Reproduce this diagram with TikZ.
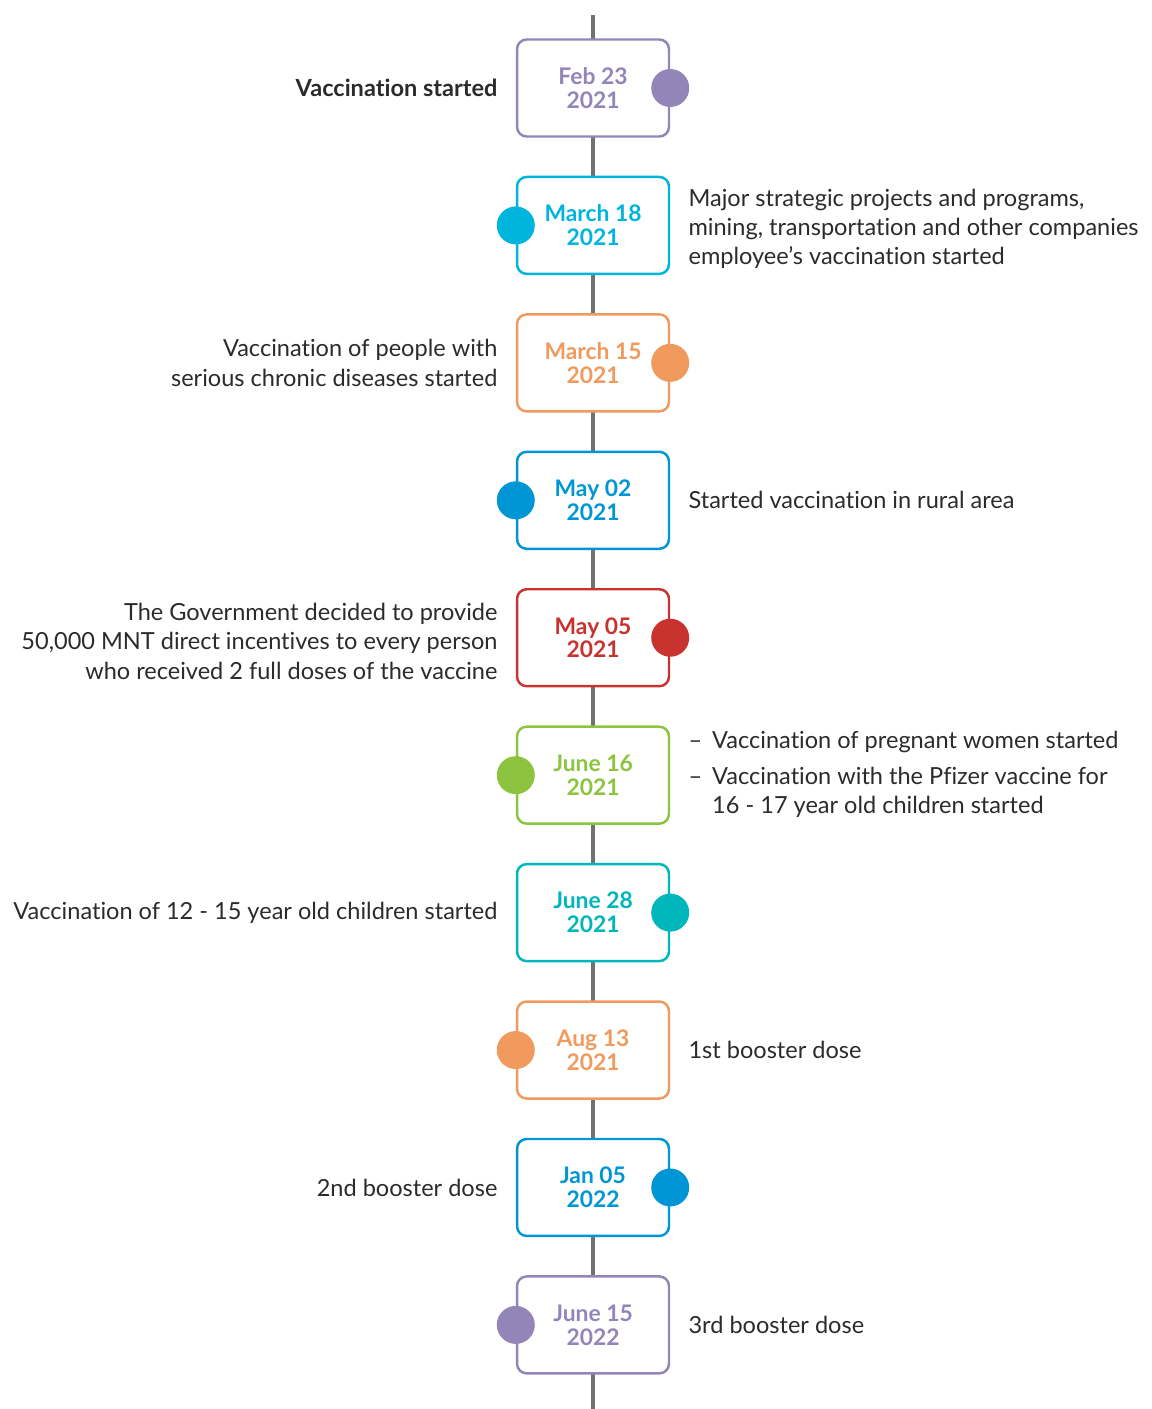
\documentclass[tikz,border=0pt]{standalone}
\usepackage{fontspec}
\setmainfont[Ligatures=NoCommon]{Lato}
\usetikzlibrary{positioning}
\definecolor{lilac}{HTML}{9485B8}
\definecolor{skyblue}{HTML}{00B5DD}
\definecolor{peach}{HTML}{F09A5E}
\definecolor{oceanblue}{HTML}{0096D6}
\definecolor{brickred}{HTML}{C8322F}
\definecolor{leafgreen}{HTML}{8CC43F}
\definecolor{teal}{HTML}{00B6BD}
\definecolor{linegray}{HTML}{6D7275}
\definecolor{txtgray}{HTML}{2B2B2B}

\begin{document}
\begin{tikzpicture}[x=0.02cm, y=-0.02cm,
  datebox/.style={draw=#1, text=#1, fill=white, line width=1.4pt,
    rounded corners=5.5pt, minimum width=3.04cm, minimum height=1.94cm,
    align=center, inner sep=0pt,
    font=\bfseries\fontsize{13}{13.6}\selectfont},
  dot/.style={circle, fill=#1, minimum size=0.76cm, inner sep=0pt},
  note/.style={text=txtgray, inner sep=0pt,
    font=\fontsize{13.4}{16.7}\selectfont},
  node distance=0.76cm]
% \draw[help lines] (0,0) grid[step=100] (1152,1409);
\useasboundingbox (0,0) rectangle (1152,1409);
% Time axis
\coordinate (top) at (593,15);
\coordinate (bottom) at (593,1409);
\draw[linegray, line width=2.3pt] (top) -- (bottom);

% Date boxes
\node[datebox=lilac] (d1) at (593,88) {Feb 23\\2021};
\node[datebox=skyblue, below=of d1] (d2) {March 18\\2021};
\node[datebox=peach, below=of d2] (d3) {March 15\\2021};
\node[datebox=oceanblue, below=of d3] (d4) {May 02\\2021};
\node[datebox=brickred, below=of d4] (d5) {May 05\\2021};
\node[datebox=leafgreen, below=of d5] (d6) {June 16\\2021};
\node[datebox=teal, below=of d6] (d7) {June 28\\2021};
\node[datebox=peach, below=of d7] (d8) {Aug 13\\2021};
\node[datebox=oceanblue, below=of d8] (d9) {Jan 05\\2022};
\node[datebox=lilac, below=of d9] (d10) {June 15\\2022};

% Dots on the box sides
\node[dot=lilac] (c1) at (d1.east) {};
\node[dot=skyblue] (c2) at (d2.west) {};
\node[dot=peach] (c3) at (d3.east) {};
\node[dot=oceanblue] (c4) at (d4.west) {};
\node[dot=brickred] (c5) at (d5.east) {};
\node[dot=leafgreen] (c6) at (d6.west) {};
\node[dot=teal] (c7) at (d7.east) {};
\node[dot=peach] (c8) at (d8.west) {};
\node[dot=oceanblue] (c9) at (d9.east) {};
\node[dot=lilac] (c10) at (d10.west) {};

% Events
\node[note, left=0.36cm of d1, font=\bfseries\fontsize{13.4}{16.7}\selectfont]
  (e1) {Vaccination started};
\node[note, right=0.36cm of d2, align=left, yshift=-2pt] (e2)
  {Major strategic projects and programs,\\
   mining, transportation and other companies\\
   employee’s vaccination started};
\node[note, left=0.36cm of d3, align=right] (e3)
  {Vaccination of people with\\serious chronic diseases started};
\node[note, right=0.36cm of d4] (e4) {Started vaccination in rural area};
\node[note, left=0.36cm of d5, align=right, yshift=-2pt] (e5)
  {The Government decided to provide\\
   50,000 MNT direct incentives to every person\\
   who received 2 full doses of the vaccine};
\node[note, right=0.36cm of d6] (e6)
  {\begin{tabular}{@{}l@{\hspace{0.2cm}}l@{}}
   -- & Vaccination of pregnant women started\\[4pt]
   -- & Vaccination with the Pfizer vaccine for\\
      & 16 - 17 year old children started
   \end{tabular}};
\node[note, left=0.36cm of d7] (e7) {Vaccination of 12 - 15 year old children started};
\node[note, right=0.36cm of d8] (e8) {1st booster dose};
\node[note, left=0.36cm of d9] (e9) {2nd booster dose};
\node[note, right=0.36cm of d10] (e10) {3rd booster dose};

\end{tikzpicture}
\end{document}
